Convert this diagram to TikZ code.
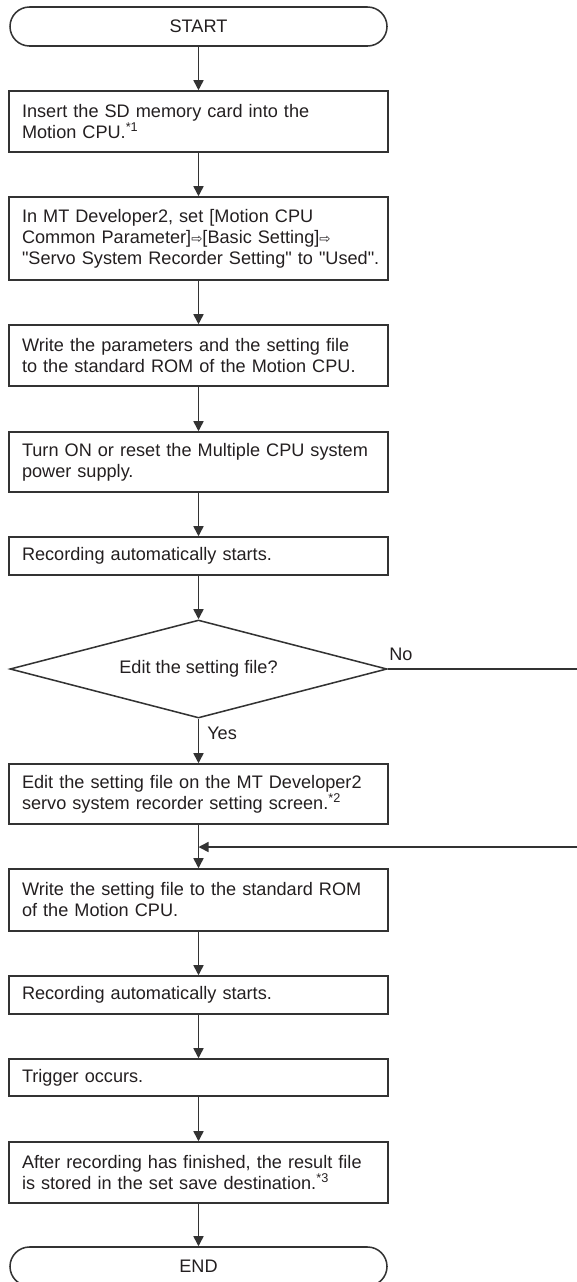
\documentclass[tikz,border=0pt]{standalone}
\usepackage{fontspec}
\newfontfamily\lsans{Liberation Sans}
\newfontfamily\dejavu{DejaVu Sans}
\usetikzlibrary{arrows.meta,shapes.geometric}
\definecolor{ln}{HTML}{333333}
\definecolor{tx}{HTML}{231F20}
\newcommand{\wra}{{\dejavu\fontsize{10}{10}\selectfont\symbol{"21E8}}}
\newcommand{\qq}{"}
\hbadness=10000 \hfuzz=50pt
\begin{document}
\begin{tikzpicture}[x=0.75pt,y=-0.75pt,
  every node/.style={font=\lsans\fontsize{13.6}{15.75}\selectfont, text=tx},
  box/.style={draw=ln, line width=1.15pt, rectangle, text width=264.75pt, inner xsep=9.75pt, inner ysep=0pt, align=left},
  term/.style={draw=ln, line width=1.15pt, rectangle, rounded corners=14.6pt, minimum width=282.75pt, minimum height=29.25pt, inner sep=0pt},
  dec/.style={draw=ln, line width=1.15pt, diamond, aspect=3.85, minimum width=282.75pt, minimum height=73.5pt, inner sep=0pt},
  arr/.style={draw=ln, line width=1.15pt, -{Triangle[length=7.5pt,width=7.5pt]}},
  plain/.style={draw=ln, line width=1.15pt},
  lbl/.style={inner sep=0pt}]
\useasboundingbox (0,0) rectangle (577,1282);

\node[term] (start) at (198.5,26.5) {START};
\node[box, minimum height=45.75pt] (b1) at (198.5,121.5) {Insert the SD memory card into the\\Motion CPU.\textsuperscript{*1}};
\node[box, minimum height=62.25pt] (b2) at (198.5,238.5) {In MT Developer2, set [Motion CPU\\Common Parameter]\wra[Basic Setting]\wra\\\mbox{\qq Servo System Recorder Setting\qq{} to \qq Used\qq.}};
\node[box, minimum height=45.75pt] (b3) at (198.5,355.5) {Write the parameters and the setting file\\to the standard ROM of the Motion CPU.};
\node[box, minimum height=45pt] (b4) at (198.5,462) {Turn ON or reset the Multiple CPU system\\power supply.};
\node[box, minimum height=28.5pt] (b5) at (198.5,556) {Recording automatically starts.};
\node[dec] (dia) at (198.5,669) {Edit the setting file?};
\node[box, minimum height=45pt] (b6) at (198.5,794) {Edit the setting file on the MT Developer2\\servo system recorder setting screen.\textsuperscript{*2}};
\node[box, minimum height=46.5pt] (b7) at (198.5,900) {Write the setting file to the standard ROM\\of the Motion CPU.};
\node[box, minimum height=28.5pt] (b8) at (198.5,995) {Recording automatically starts.};
\node[box, minimum height=27.75pt] (b9) at (198.5,1077.5) {Trigger occurs.};
\node[box, minimum height=45.75pt] (b10) at (198.5,1172.5) {After recording has finished, the result file\\is stored in the set save destination.\textsuperscript{*3}};
\node[term] (end) at (198.5,1266.5) {END};

\coordinate (noend) at (577,669);
\coordinate (retstart) at (577,847);
\coordinate (join) at (198.5,847);

\draw[arr] (start) -- (b1);
\draw[arr] (b1) -- (b2);
\draw[arr] (b2) -- (b3);
\draw[arr] (b3) -- (b4);
\draw[arr] (b4) -- (b5);
\draw[arr] (b5) -- (dia);
\draw[arr] (dia) -- (b6);
\draw[plain] (dia.east) -- (noend);
\draw[arr] (b6) -- (b7);
\draw[arr] (retstart) -- (join);
\draw[arr] (b7) -- (b8);
\draw[arr] (b8) -- (b9);
\draw[arr] (b9) -- (b10);
\draw[arr] (b10) -- (end);

\node[lbl, anchor=base west] (no) at (389,660) {No};
\node[lbl, anchor=base west] (yes) at (207,739) {Yes};
\end{tikzpicture}
\end{document}
